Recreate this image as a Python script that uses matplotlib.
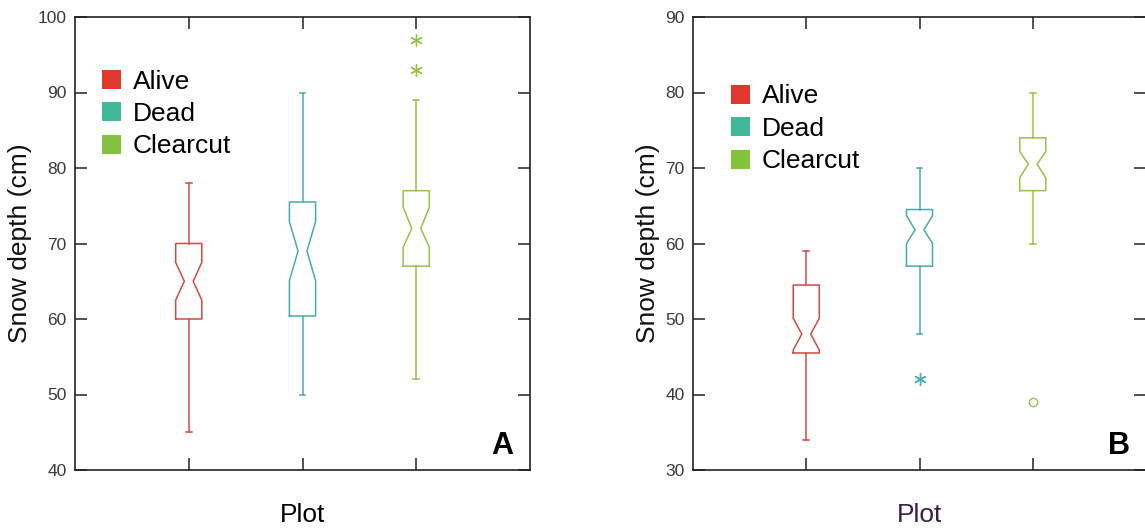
import matplotlib
matplotlib.use("Agg")
import matplotlib.pyplot as plt
from matplotlib.patches import Patch

plt.rcParams['font.family'] = ['Liberation Sans', 'DejaVu Sans']

groups = ["Alive", "Dead", "Clearcut"]
line_colors = ["#d24a44", "#4aaab0", "#98c248"]
legend_colors = ["#e0392b", "#42b89a", "#84c23e"]

# Panel A stats
a_whislo = [45, 50, 52]
a_q1 = [60, 60.4, 67]
a_med = [65, 69, 72]
a_q3 = [70, 75.5, 77]
a_whishi = [78, 90, 89]
a_cilo = [62.5, 65.1, 69.5]
a_cihi = [67.5, 72.9, 74.8]
a_fliers = [[], [], [93, 97]]
a_flier_marker = ["*", "*", "*"]

# Panel B stats
b_whislo = [34, 48, 60]
b_q1 = [45.5, 57, 67]
b_med = [48, 61.8, 70.5]
b_q3 = [54.5, 64.5, 74]
b_whishi = [59, 70, 80]
b_cilo = [45.9, 60.0, 68.7]
b_cihi = [50.1, 63.7, 72.2]
b_fliers = [[], [42], [39]]
b_flier_marker = ["*", "*", "o"]

a_yticks = [40, 50, 60, 70, 80, 90, 100]
b_yticks = [30, 40, 50, 60, 70, 80, 90]

fig = plt.figure(figsize=(11.45, 5.31), dpi=100)
axA = fig.add_axes([75/1145, 61/531, 455/1145, 453/531])
axB = fig.add_axes([693/1145, 61/531, 453/1145, 453/531])

W = 0.23

def draw(ax, whislo, q1, med, q3, whishi, cilo, cihi, fliers, fmarkers):
    for i in range(3):
        st = dict(whislo=whislo[i], q1=q1[i], med=med[i], q3=q3[i], whishi=whishi[i],
                  cilo=cilo[i], cihi=cihi[i], fliers=fliers[i])
        c = line_colors[i]
        if fmarkers[i] == "*":
            fp = dict(marker=(6, 2, 0), markersize=9, markeredgecolor=c, markeredgewidth=1.0,
                      linestyle='none')
        else:
            fp = dict(marker='o', markersize=6, markerfacecolor='none', markeredgecolor=c,
                      markeredgewidth=1.0, linestyle='none')
        r = ax.bxp([st], positions=[i + 1], widths=W, shownotches=True, capwidths=0.05,
                   boxprops=dict(color=c, linewidth=1.1),
                   whiskerprops=dict(color=c, linewidth=1.1),
                   capprops=dict(color=c, linewidth=1.1),
                   medianprops=dict(visible=False),
                   flierprops=fp, manage_ticks=False)
        for b in r['boxes']:
            xd = list(b.get_xdata())
            xd[3] = (i + 1) + W * 0.17
            xd[8] = (i + 1) - W * 0.17
            b.set_xdata(xd)

def style(ax, yticks, label_color, letter, legend_anchor, ylab_x):
    ax.set_xlim(0, 4)
    ax.set_ylim(yticks[0], yticks[-1])
    ax.set_yticks(yticks)
    ax.set_xticks([1, 2, 3])
    ax.set_xticklabels([])
    ax.tick_params(axis='both', direction='in', length=8.8, width=1.1, color='#222222',
                   top=True, right=True, labelsize=12.5, labelcolor='#3a3a3a', pad=6)
    for s in ax.spines.values():
        s.set_color('#222222')
        s.set_linewidth(1.2)
    ax.set_ylabel("Snow depth (cm)", fontsize=19, color='#111111')
    ax.yaxis.set_label_coords(ylab_x, 0.5)
    ax.set_xlabel("Plot", fontsize=19, color=label_color)
    ax.xaxis.set_label_coords(0.5, -0.072)
    ax.text(0.94, 0.053, letter, transform=ax.transAxes, fontsize=22, fontweight='bold',
            ha='center', va='center', color='black')
    handles = [Patch(facecolor=legend_colors[i], edgecolor='none', label=groups[i]) for i in range(3)]
    ax.legend(handles=handles, loc='upper left', bbox_to_anchor=legend_anchor, frameon=False,
              fontsize=19, handlelength=0.73, handleheight=0.73, handletextpad=0.45,
              labelspacing=0.32, borderpad=0, borderaxespad=0)

draw(axA, a_whislo, a_q1, a_med, a_q3, a_whishi, a_cilo, a_cihi, a_fliers, a_flier_marker)
draw(axB, b_whislo, b_q1, b_med, b_q3, b_whishi, b_cilo, b_cihi, b_fliers, b_flier_marker)
style(axA, a_yticks, 'black', 'A', (0.0587, 0.884), -0.094)
style(axB, b_yticks, '#3c1e46', 'B', (0.0837, 0.851), -0.073)

fig.savefig("out.png", dpi=100)
